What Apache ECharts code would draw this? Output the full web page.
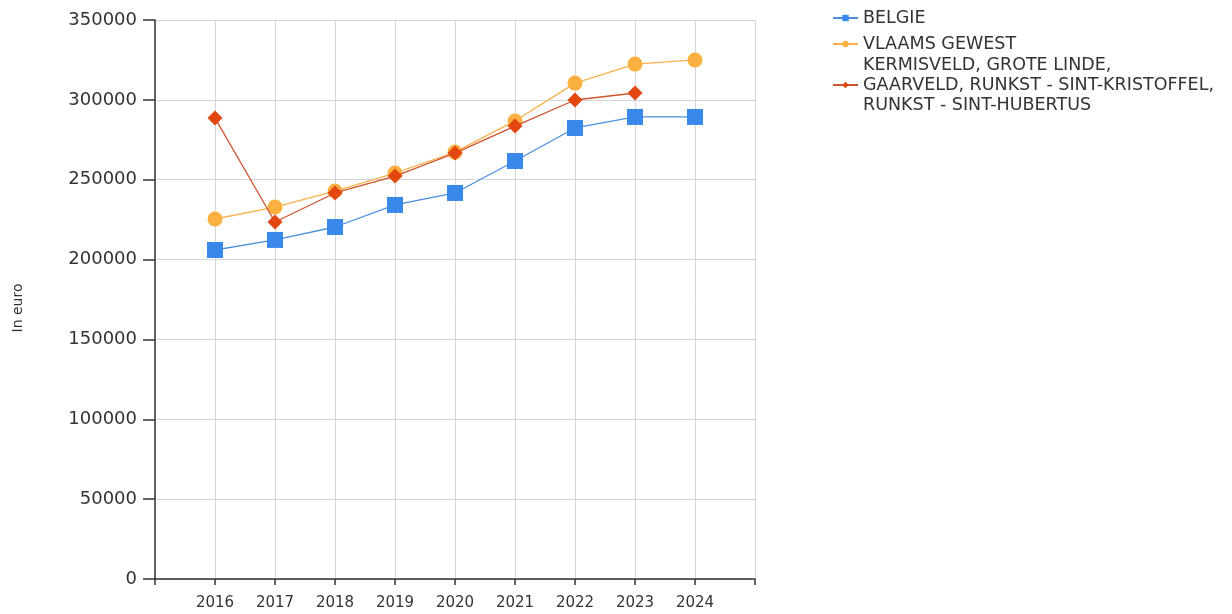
<!DOCTYPE html>
<html>
<head>
<meta charset="utf-8">
<script src="https://cdn.jsdelivr.net/npm/echarts@6/dist/echarts.min.js"></script>
<style>
html,body{margin:0;padding:0;background:#fff;}
#chart{width:1232px;height:614px;}
</style>
</head>
<body>
<div id="chart"></div>
<script>
var years = [2016, 2017, 2018, 2019, 2020, 2021, 2022, 2023, 2024];
var belgie = [206000, 212300, 220400, 234200, 241700, 261700, 282400, 289300, 289300];
var vlaams = [225400, 232900, 242900, 254200, 267300, 286800, 310500, 322400, 325000];
var wijk = [288600, 223500, 241700, 252300, 266700, 283600, 299900, 304300];
var nameBelgie = 'BELGIE';
var nameVlaams = 'VLAAMS GEWEST';
var nameWijk = 'KERMISVELD, GROTE LINDE, GAARVELD, RUNKST - SINT-KRISTOFFEL, RUNKST - SINT-HUBERTUS';
var wijkLabelLines = ['KERMISVELD, GROTE LINDE,', 'GAARVELD, RUNKST - SINT-KRISTOFFEL,', 'RUNKST - SINT-HUBERTUS'];
var yTitle = 'In euro';

function pairs(vals) {
  return vals.map(function (v, i) { return [years[i], v]; });
}

var font = '"DejaVu Sans", Verdana, sans-serif';
var chart = echarts.init(document.getElementById('chart'));

function legendFor(name, top) {
  return {
    left: 832,
    top: top,
    orient: 'vertical',
    data: [name],
    itemWidth: 25,
    itemHeight: 8,
    itemGap: 0,
    padding: 0,
    selectedMode: false,
    textStyle: {
      color: '#333',
      fontSize: 17.5,
      fontFamily: font,
      lineHeight: 20
    },
    formatter: function (n) {
      return n === nameWijk ? wijkLabelLines.join('\n') : n;
    }
  };
}

chart.setOption({
  backgroundColor: '#fff',
  animation: false,
  grid: { left: 155, right: 477, top: 20, bottom: 35, containLabel: false },
  legend: [
    legendFor(nameBelgie, 8),
    legendFor(nameVlaams, 34),
    legendFor(nameWijk, 55)
  ],
  graphic: [{
    type: 'text',
    x: 18,
    y: 308,
    rotation: Math.PI / 2,
    style: {
      text: yTitle,
      fill: '#333',
      fontSize: 14,
      fontFamily: font,
      align: 'center',
      verticalAlign: 'middle'
    }
  }],
  xAxis: {
    type: 'value',
    min: 2015,
    max: 2025,
    interval: 1,
    axisLine: { show: true, onZero: false, lineStyle: { color: '#333', width: 1.5 } },
    axisTick: { show: true, length: 6, inside: false, lineStyle: { color: '#333', width: 1.5 } },
    axisLabel: {
      color: '#333',
      fontSize: 15,
      fontFamily: font,
      margin: 17,
      formatter: function (v) { return (v === 2015 || v === 2025) ? '' : String(v); }
    },
    splitLine: { show: true, lineStyle: { color: '#d6d6d6', width: 1 } }
  },
  yAxis: {
    type: 'value',
    min: 0,
    max: 350000,
    interval: 50000,
    axisLine: { show: true, lineStyle: { color: '#333', width: 1.5 } },
    axisTick: { show: true, length: 12, lineStyle: { color: '#333', width: 1.5 } },
    axisLabel: {
      color: '#333', fontSize: 18, fontFamily: font, margin: 18,
      formatter: function (v) { return String(v); }
    },
    splitLine: { show: true, lineStyle: { color: '#d6d6d6', width: 1 } }
  },
  series: [
    {
      name: nameBelgie,
      type: 'line',
      data: pairs(belgie),
      symbol: 'rect',
      symbolSize: 16,
      itemStyle: { color: '#3a88ea' },
      lineStyle: { color: '#4a8fe0', width: 1.3 },
      z: 3
    },
    {
      name: nameVlaams,
      type: 'line',
      data: pairs(vlaams),
      symbol: 'circle',
      symbolSize: 15,
      itemStyle: { color: '#fbb040' },
      lineStyle: { color: '#f7b14a', width: 1.3 },
      z: 2
    },
    {
      name: nameWijk,
      type: 'line',
      data: pairs(wijk),
      symbol: 'diamond',
      symbolSize: 15,
      itemStyle: { color: '#e2470f' },
      lineStyle: { color: '#cf5430', width: 1.3 },
      z: 4
    }
  ]
});
</script>
</body>
</html>
